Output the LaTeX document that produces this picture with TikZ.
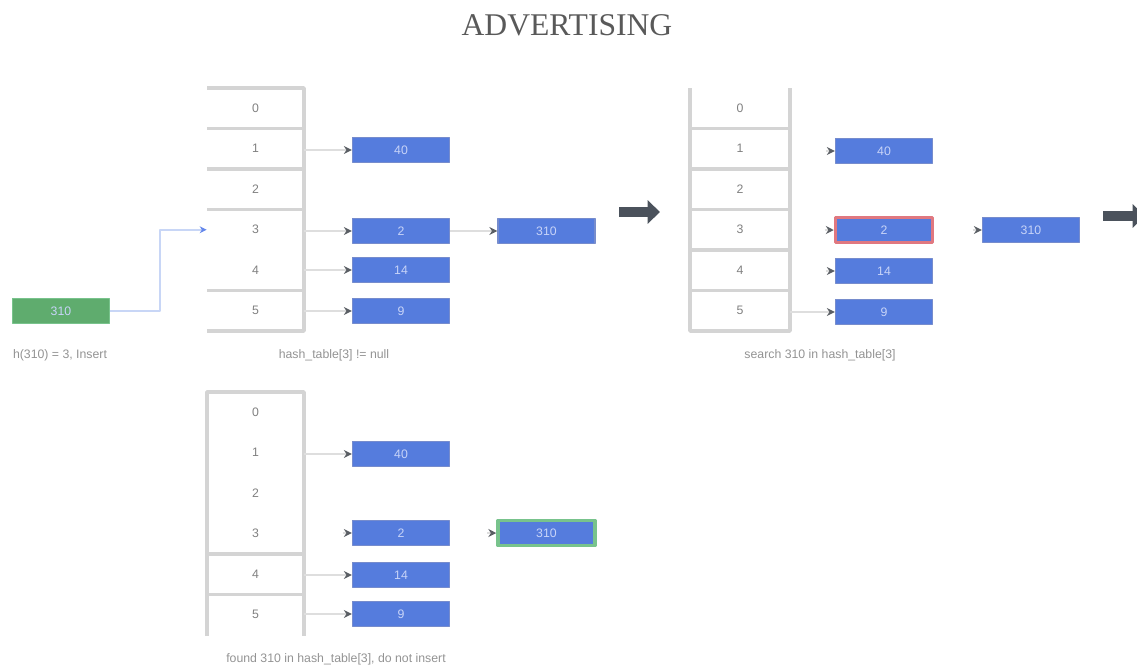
\documentclass[tikz,border=0pt]{standalone}
\usepackage{fontspec}
\setmainfont{Liberation Serif}
\newfontfamily\labelfont{Liberation Sans}
\usetikzlibrary{arrows.meta}
\definecolor{cellblue}{RGB}{85,124,221}
\definecolor{cellline}{RGB}{118,140,205}
\definecolor{valtext}{RGB}{200,212,248}
\definecolor{okgreen}{RGB}{95,172,110}
\definecolor{okline}{RGB}{120,195,140}
\definecolor{badred}{RGB}{224,120,128}
\definecolor{gridgray}{RGB}{212,212,212}
\definecolor{linkgray}{RGB}{222,222,222}
\definecolor{tipgray}{RGB}{90,94,100}
\definecolor{inslink}{RGB}{200,214,246}
\definecolor{insblue}{RGB}{100,135,235}
\definecolor{bigarrow}{RGB}{75,82,92}
\begin{document}
\begin{tikzpicture}[x=0.02cm,y=-0.02cm,line join=round]
	\tikzset{
		cell/.style={minimum width=1.94cm,minimum height=0.81cm,inner sep=0pt,text=gray,font=\labelfont\fontsize{7}{8}\selectfont},
		val/.style={fill=cellblue,draw=cellline,line width=0.8pt,minimum width=1.94cm,minimum height=0.5cm,inner sep=0pt,text=valtext,font=\labelfont\fontsize{7}{8}\selectfont},
		grid/.style={draw=gridgray,line width=2pt},
		link/.style={draw=linkgray,line width=1.4pt,-{Stealth[length=4.5pt,width=4.5pt,color=tipgray]}},
		stub/.style={draw=linkgray,line width=1pt,-{Stealth[length=4.5pt,width=4.5pt,color=tipgray]}},
		caption/.style={text=gray!85,font=\labelfont\fontsize{7}{8}\selectfont},
		big/.style={draw=bigarrow,line width=5.5pt,-{Triangle[length=7pt,width=13pt]}}
	}
	\useasboundingbox (0,0) rectangle (1137,664);
	\node[text=black!65,font=\fontsize{18}{20}\selectfont] (title) at (567,25) {ADVERTISING};
	% first table: insert 310
	\draw[grid] (207,88) -- (304,88) -- (304,331) -- (207,331);
	\foreach \y in {128.5,169,209.5,290.5}
		\draw[grid] (207,\y) -- (304,\y);
	\foreach \i in {0,...,5}
		\node[cell] (a\i) at (255.5,{108.25+40.5*\i}) {\i};
	\node[val] (av1) at (401,150) {40};
	\node[val] (av3) at (401,231) {2};
	\node[val] (av4) at (401,270) {14};
	\node[val] (av5) at (401,311) {9};
	\node[val] (aw3) at (546.5,231) {310};
	\foreach \i in {1,3,4,5}
		\draw[link] (a\i.east|-av\i) -- (av\i.west);
	\draw[link] (av3) -- (aw3);
	\node[val,fill=okgreen,draw=okline] (new) at (61,311) {310};
	\draw[draw=inslink,line width=1.4pt,-{Stealth[length=4pt,width=4pt,color=insblue]}] (new.east) -- ++(50,0) |- (a3.west);
	\node[caption] (cap1) at (60,355) {h(310) = 3, Insert};
	\node[caption] (cap2) at (334,355) {hash\_table[3] != null};
	\coordinate (s1) at (619,212);
	\coordinate (e1) at (660,212);
	\draw[big] (s1) -- (e1);
	% second table: search the chain
	\draw[grid] (690,88) -- (690,331) -- (790,331) -- (790,88);
	\foreach \y in {128.5,169,209.5,250,290.5}
		\draw[grid] (690,\y) -- (790,\y);
	\foreach \i in {0,...,5}
		\node[cell,minimum width=2cm] (b\i) at (740,{108.25+40.5*\i}) {\i};
	\node[val] (bv1) at (884,151) {40};
	\node[val,draw=badred,line width=2pt] (bv3) at (884,230) {2};
	\node[val] (bv4) at (884,271) {14};
	\node[val] (bv5) at (884,312) {9};
	\node[val] (bw3) at (1031,230) {310};
	\foreach \i in {1,3,4}
		\draw[stub] (bv\i.west) ++(-9,0) -- (bv\i.west);
	\draw[stub] (bw3.west) ++(-9,0) -- (bw3.west);
	\draw[link] (b5.east|-bv5) -- (bv5.west);
	\node[caption] (cap3) at (820,355) {search 310 in hash\_table[3]};
	\coordinate (s2) at (1103,216);
	\coordinate (e2) at (1145,216);
	\draw[big] (s2) -- (e2);
	% third table: found, no insert
	\draw[grid] (207,636) -- (207,392) -- (304,392) -- (304,636);
	\foreach \y in {554,594.5}
		\draw[grid] (207,\y) -- (304,\y);
	\foreach \i in {0,...,5}
		\node[cell] (c\i) at (255.5,{412.25+40.5*\i}) {\i};
	\node[val] (cv1) at (401,454) {40};
	\node[val] (cv3) at (401,533) {2};
	\node[val] (cv4) at (401,575) {14};
	\node[val] (cv5) at (401,614) {9};
	\node[val,draw=okline,line width=2pt] (cw3) at (546.5,533) {310};
	\foreach \i in {1,4,5}
		\draw[link] (c\i.east|-cv\i) -- (cv\i.west);
	\draw[stub] (cv3.west) ++(-9,0) -- (cv3.west);
	\draw[stub] (cw3.west) ++(-9,0) -- (cw3.west);
	\node[caption] (cap4) at (336,659) {found 310 in hash\_table[3], do not insert};
\end{tikzpicture}
\end{document}
